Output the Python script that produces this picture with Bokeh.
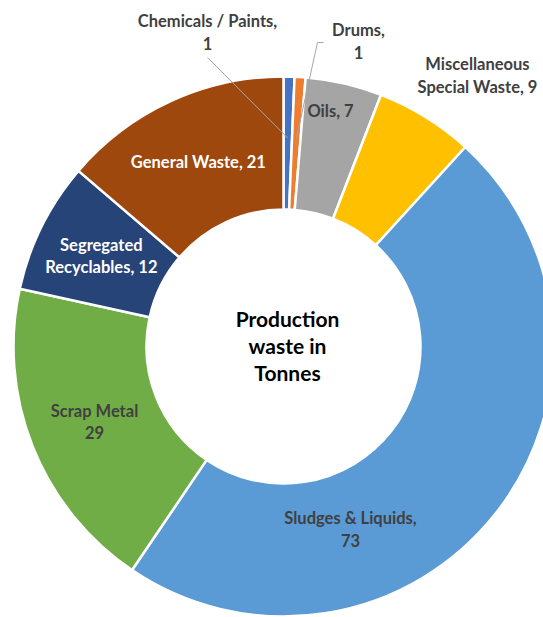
import math
from bokeh.plotting import figure
from bokeh.models import Range1d, ColumnDataSource
from bokeh.core.properties import value
from bokeh.embed import file_html
from bokeh.resources import INLINE

# ---- data ----
categories = ["Chemicals / Paints", "Drums", "Oils", "Miscellaneous\nSpecial Waste",
              "Sludges & Liquids", "Scrap Metal", "Segregated\nRecyclables", "General Waste"]
values = [1, 1, 7, 9, 73, 29, 12, 21]
colors = ["#4472C4", "#ED7D31", "#A5A5A5", "#FFC000", "#5B9BD5", "#70AD47", "#264478", "#9E480E"]
label_texts = ["Chemicals / Paints,\n1", "Drums,\n1", "Oils, 7", "Miscellaneous\nSpecial Waste, 9",
               "Sludges & Liquids,\n73", "Scrap Metal\n29", "Segregated\nRecyclables, 12", "General Waste, 21"]
label_colors = ["#404040", "#404040", "#404040", "#404040", "#404040", "#404040", "#FFFFFF", "#FFFFFF"]
center_title = "Production\nwaste in\nTonnes"

# ---- layout / style ----
W, H = 543, 617
CX, CY = 283, H - 346
R_OUT, R_IN = 270, 137
FONT = "Lato"
# manually placed labels (pixel positions, like Excel's dragged labels); None -> default
label_pos_override = {0: (207, 32), 1: (358, 41), 2: (330, 110), 3: (477, 75), 4: (350, 529)}
leader = {0: [(207, 57)], 1: [(323, 42), (317, 42)]}

total = sum(values)
starts, ends, mids = [], [], []
cum = 0
for v in values:
    a0 = math.pi / 2 - 2 * math.pi * cum / total
    cum += v
    a1 = math.pi / 2 - 2 * math.pi * cum / total
    starts.append(a0)
    ends.append(a1)
    mids.append((a0 + a1) / 2)

p = figure(width=W, height=H, output_backend="svg", toolbar_location=None,
           x_range=Range1d(0, W), y_range=Range1d(0, H),
           x_axis_location=None, y_axis_location=None, min_border=0,
           outline_line_color=None, background_fill_color="white", border_fill_color="white")
p.grid.visible = False

src = ColumnDataSource(dict(start=starts, end=ends, color=colors))
p.annular_wedge(x=CX, y=CY, inner_radius=R_IN, outer_radius=R_OUT,
                start_angle="start", end_angle="end", direction="clock",
                fill_color="color", line_color="white", line_width=2.5, source=src)

# leader lines
for i, pts in leader.items():
    r = (R_IN + R_OUT) / 2 + 5
    ex = CX + r * math.cos(mids[i])
    ey = CY + r * math.sin(mids[i])
    xs = [x for x, y in pts] + [ex]
    ys = [H - y for x, y in pts] + [ey]
    p.line(xs, ys, line_color="#A6A6A6", line_width=1)

# labels
lx, ly = [], []
rmid = (R_IN + R_OUT) / 2
for i in range(len(values)):
    if i in label_pos_override:
        x, y = label_pos_override[i]
        lx.append(x)
        ly.append(H - y)
    else:
        lx.append(CX + rmid * math.cos(mids[i]))
        ly.append(CY + rmid * math.sin(mids[i]))
lsrc = ColumnDataSource(dict(x=lx, y=ly, t=label_texts, c=label_colors))
p.text(x="x", y="y", text="t", text_color="c", source=lsrc,
       text_font=value(FONT), text_font_style="bold", text_font_size="16.5px",
       text_align="center", text_baseline="middle", text_line_height=1.12)

p.text(x=[287], y=[H - 345], text=[center_title], text_color="#000000",
       text_font=value(FONT), text_font_style="bold", text_font_size="21px",
       text_align="center", text_baseline="middle", text_line_height=1.08)

open("out.html", "w").write(file_html(p, INLINE))
